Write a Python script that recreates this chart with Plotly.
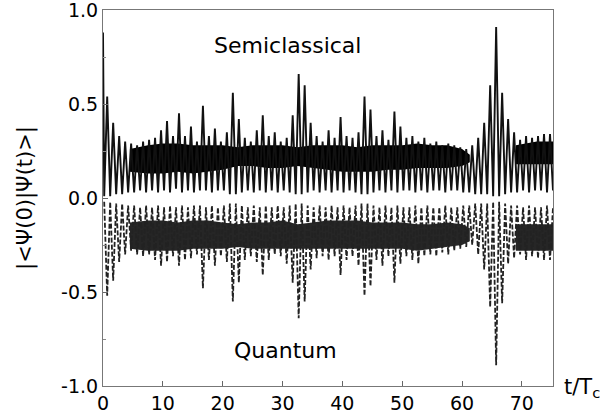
import numpy as np
import plotly.graph_objects as go

# ---- data ----
# one revival per classical period T_c; peak of period k at t = k + 0.7, dip at t = k + 0.2
semi_start = 0.88  # value read at t = 0 (along the left axis)

semi_peak = [0.54, 0.40, 0.33, 0.30, 0.29, 0.28, 0.30, 0.31, 0.32, 0.36,
             0.41, 0.33, 0.45, 0.33, 0.38, 0.30, 0.49, 0.33, 0.37, 0.30,
             0.35, 0.56, 0.42, 0.32, 0.30, 0.36, 0.44, 0.33, 0.35, 0.30,
             0.32, 0.44, 0.66, 0.60, 0.40, 0.33, 0.30, 0.36, 0.32, 0.43,
             0.33, 0.32, 0.35, 0.54, 0.47, 0.33, 0.36, 0.31, 0.46, 0.38,
             0.32, 0.33, 0.30, 0.32, 0.29, 0.30, 0.28, 0.29, 0.28, 0.27,
             0.26, 0.28, 0.32, 0.40, 0.60, 0.91, 0.56, 0.42, 0.35, 0.31,
             0.33, 0.32, 0.33, 0.34, 0.34]

quantum_peak = [-0.52, -0.44, -0.34, -0.30, -0.28, -0.30, -0.31, -0.30, -0.33, -0.36,
                -0.34, -0.31, -0.36, -0.33, -0.32, -0.30, -0.48, -0.33, -0.36, -0.31,
                -0.34, -0.55, -0.45, -0.33, -0.31, -0.34, -0.41, -0.33, -0.30, -0.31,
                -0.35, -0.45, -0.64, -0.55, -0.38, -0.32, -0.31, -0.33, -0.31, -0.41,
                -0.33, -0.31, -0.36, -0.52, -0.47, -0.33, -0.36, -0.31, -0.45, -0.35,
                -0.31, -0.33, -0.35, -0.31, -0.30, -0.31, -0.29, -0.30, -0.28, -0.27,
                -0.26, -0.25, -0.30, -0.38, -0.58, -0.89, -0.56, -0.35, -0.32, -0.30,
                -0.33, -0.31, -0.32, -0.33, -0.33]

semi_dip = [0.01, 0.01, 0.02, 0.02, 0.03, 0.03, 0.04, 0.03, 0.04, 0.03,
            0.04, 0.03, 0.05, 0.03, 0.04, 0.03, 0.04, 0.04, 0.03, 0.04,
            0.04, 0.02, 0.02, 0.03, 0.04, 0.03, 0.04, 0.03, 0.04, 0.03,
            0.04, 0.03, 0.02, 0.02, 0.03, 0.04, 0.03, 0.04, 0.03, 0.04,
            0.03, 0.04, 0.03, 0.02, 0.02, 0.03, 0.04, 0.03, 0.04, 0.03,
            0.04, 0.04, 0.03, 0.04, 0.03, 0.04, 0.04, 0.03, 0.04, 0.04,
            0.03, 0.03, 0.02, 0.02, 0.02, 0.01, 0.01, 0.02, 0.03, 0.03,
            0.04, 0.03, 0.04, 0.04, 0.03, 0.04]

quantum_dip = [-0.02, -0.02, -0.03, -0.03, -0.04, -0.04, -0.05, -0.04, -0.05, -0.04,
               -0.05, -0.04, -0.05, -0.04, -0.05, -0.04, -0.04, -0.05, -0.04, -0.05,
               -0.04, -0.03, -0.03, -0.04, -0.05, -0.04, -0.05, -0.04, -0.05, -0.04,
               -0.05, -0.04, -0.03, -0.03, -0.04, -0.05, -0.04, -0.05, -0.04, -0.05,
               -0.04, -0.05, -0.04, -0.03, -0.03, -0.04, -0.05, -0.04, -0.05, -0.04,
               -0.05, -0.05, -0.04, -0.05, -0.04, -0.05, -0.05, -0.04, -0.05, -0.05,
               -0.04, -0.04, -0.03, -0.03, -0.03, -0.02, -0.02, -0.03, -0.04, -0.04,
               -0.05, -0.04, -0.05, -0.05, -0.04, -0.05]

# dense (plateau) band edges read at these times; None where the signal is sparse
band_t = [0, 2.5, 4.5, 7.5, 10, 12.5, 15, 17.5, 20, 22.5, 25, 27.5, 30, 32.5, 35, 37.5,
          40, 42.5, 45, 47.5, 50, 52.5, 55, 57.5, 60, 61.3, 63, 66, 69, 72.5, 75.2]
semi_band_top = [None, None, 0.26, 0.28, 0.29, 0.29, 0.28, 0.28, 0.28, 0.27, 0.28, 0.28,
                 0.28, 0.27, 0.28, 0.28, 0.28, 0.27, 0.28, 0.28, 0.28, 0.29, 0.28, 0.28,
                 0.26, 0.23, None, None, 0.28, 0.30, 0.30]
semi_band_bot = [None, None, 0.14, 0.13, 0.13, 0.14, 0.13, 0.14, 0.15, 0.17, 0.17, 0.16,
                 0.16, 0.17, 0.16, 0.15, 0.14, 0.14, 0.14, 0.15, 0.15, 0.16, 0.16, 0.16,
                 0.17, 0.19, None, None, 0.18, 0.18, 0.18]
quantum_band_top = [None, None, -0.13, -0.12, -0.12, -0.13, -0.12, -0.12, -0.13, -0.14,
                    -0.13, -0.13, -0.12, -0.14, -0.13, -0.12, -0.12, -0.12, -0.13, -0.13,
                    -0.13, -0.14, -0.14, -0.13, -0.14, -0.16, None, None, -0.14, -0.14, -0.14]
quantum_band_bot = [None, None, -0.27, -0.28, -0.28, -0.28, -0.27, -0.27, -0.27, -0.26,
                    -0.27, -0.27, -0.27, -0.27, -0.27, -0.27, -0.27, -0.27, -0.27, -0.27,
                    -0.27, -0.28, -0.27, -0.26, -0.25, -0.23, None, None, -0.28, -0.28, -0.28]

x_ticks = [0, 10, 20, 30, 40, 50, 60, 70]
y_ticks = [-1.0, -0.5, 0.0, 0.5, 1.0]
y_ticktext = ["-1.0", "-0.5", "0.0", "0.5", "1.0"]
y_minor = [-0.75, -0.25, 0.25, 0.75]


def zigzag(peaks, dips, start=None):
    xs, ys = [], []
    if start is not None:
        xs.append(0.0)
        ys.append(start)
    for k in range(len(peaks)):
        xs += [k + 0.2, k + 0.7]
        ys += [dips[k], peaks[k]]
    k = len(peaks)
    if k < len(dips):
        xs.append(k + 0.2)
        ys.append(dips[k])
    return xs, ys


def band(ts, top, bot):
    xs, ys = [], []
    run = []
    for t, a, b in list(zip(ts, top, bot)) + [(None, None, None)]:
        if a is None:
            if run:
                rt = [r[0] for r in run]
                xs += rt + rt[::-1] + [None]
                ys += [r[1] for r in run] + [r[2] for r in run][::-1] + [None]
                run = []
        else:
            run.append((t, a, b))
    return xs, ys


fig = go.Figure()

bx, by = band(band_t, semi_band_top, semi_band_bot)
fig.add_trace(go.Scatter(x=bx, y=by, mode="lines", fill="toself",
                         fillcolor="rgba(0,0,0,1)", line=dict(width=0),
                         hoverinfo="skip", showlegend=False))
bx, by = band(band_t, quantum_band_top, quantum_band_bot)
fig.add_trace(go.Scatter(x=bx, y=by, mode="lines", fill="toself",
                         fillcolor="rgba(0,0,0,0.85)", line=dict(width=0),
                         hoverinfo="skip", showlegend=False))

zx, zy = zigzag(semi_peak, semi_dip, semi_start)
fig.add_trace(go.Scatter(x=zx, y=zy, mode="lines", name="Semiclassical",
                         line=dict(color="#111111", width=1.9), showlegend=False))
zx, zy = zigzag(quantum_peak, quantum_dip)
fig.add_trace(go.Scatter(x=zx, y=zy, mode="lines", name="Quantum",
                         line=dict(color="#222222", width=1.8, dash="5px,2px"),
                         showlegend=False))

font = "DejaVu Sans, Arial, sans-serif"
fig.update_layout(
    template="none",
    width=604, height=419,
    margin=dict(l=103, r=51, t=10, b=33),
    paper_bgcolor="white", plot_bgcolor="white",
    font=dict(family=font, color="black", size=19),
    xaxis=dict(range=[0, 75.2], tickvals=x_ticks, ticktext=[str(v) for v in x_ticks],
               ticks="inside", ticklen=5, tickcolor="#666", showline=True,
               linecolor="#777", linewidth=1, mirror=True, showgrid=False,
               zeroline=False, automargin=False, ticklabeloverflow="allow",
               tickfont=dict(size=19)),
    yaxis=dict(range=[-1, 1], tickvals=y_ticks, ticktext=y_ticktext,
               ticks="inside", ticklen=5, tickcolor="#666", showline=True,
               linecolor="#777", linewidth=1, mirror=True, showgrid=False,
               zeroline=False, automargin=False, ticklabeloverflow="allow",
               tickfont=dict(size=19),
               minor=dict(tickvals=y_minor, ticks="inside", ticklen=3, tickcolor="#888"),
               title=dict(text="|<Ψ(0)|Ψ(t)>|", font=dict(size=21), standoff=22)),
    annotations=[
        dict(text="Semiclassical", x=0.41, y=0.905, xref="paper", yref="paper",
             showarrow=False, font=dict(size=22), xanchor="center", yanchor="middle"),
        dict(text="Quantum", x=0.405, y=0.095, xref="paper", yref="paper",
             showarrow=False, font=dict(size=22), xanchor="center", yanchor="middle"),
        dict(text="t/T<sub>c</sub>", x=1.02, y=-0.005, xref="paper", yref="paper",
             showarrow=False, font=dict(size=21), xanchor="left", yanchor="middle"),
    ],
)

fig.write_html("out.html")
